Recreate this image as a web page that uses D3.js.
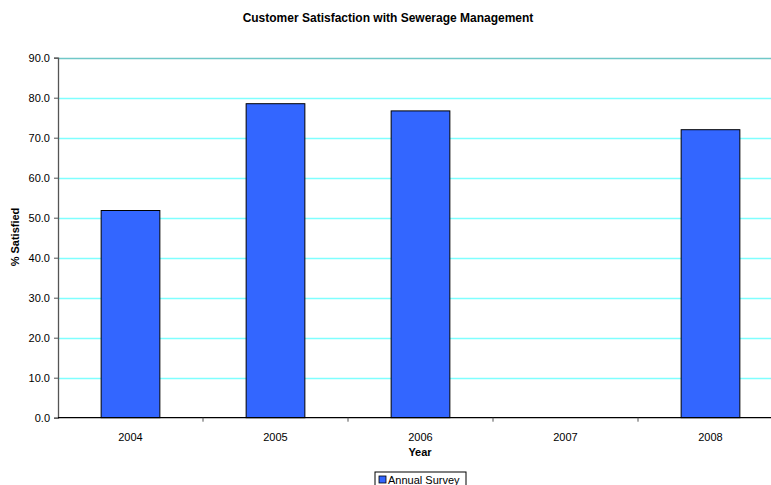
<!DOCTYPE html>
<html>
<head>
<meta charset="utf-8">
<script src="https://cdn.jsdelivr.net/npm/d3@7"></script>
<style>
  body { margin: 0; background: #fff; }
  svg { display: block; font-family: "Liberation Sans", Arial, sans-serif; }
</style>
</head>
<body>
<svg id="chart" width="771" height="485"></svg>
<script>
// Survey years and share of satisfied customers (no survey in 2007)
const years = ["2004", "2005", "2006", "2007", "2008"];
const satisfied = [51.8, 78.5, 76.7, null, 72.0];
const yTicks = [0, 10, 20, 30, 40, 50, 60, 70, 80, 90];
const seriesName = "Annual Survey";
const title = "Customer Satisfaction with Sewerage Management";

const svg = d3.select("#chart");
const margin = { left: 58, top: 57.7, bottom: 417.7 };
const plotRight = 58 + 5 * 145;

const x = d3.scaleBand().domain(years).range([margin.left, plotRight]).paddingInner(0).paddingOuter(0);
const y = d3.scaleLinear().domain([0, 90]).range([margin.bottom, margin.top]);

// gridlines
svg.append("g").selectAll("line")
  .data(yTicks.filter(t => t > 0))
  .join("line")
  .attr("x1", margin.left).attr("x2", plotRight)
  .attr("y1", d => Math.round(y(d)) + 0.5).attr("y2", d => Math.round(y(d)) + 0.5)
  .attr("stroke", d => d === 90 ? "#70c8c8" : "#7fffff")
  .attr("stroke-width", 1.6);

// bars
const barW = x.bandwidth() * 0.405;
svg.append("g").selectAll("rect")
  .data(years.map((yr, i) => ({ yr, v: satisfied[i] })).filter(d => d.v != null))
  .join("rect")
  .attr("x", d => x(d.yr) + (x.bandwidth() - barW) / 2)
  .attr("width", barW)
  .attr("y", d => y(d.v))
  .attr("height", d => y(0) - y(d.v))
  .attr("fill", "#3366ff")
  .attr("stroke", "#000")
  .attr("stroke-width", 1);

// y axis
const yAxis = svg.append("g")
  .attr("transform", `translate(${margin.left},0)`)
  .call(d3.axisLeft(y).tickValues(yTicks).tickFormat(d3.format(".1f")).tickSize(4).tickPadding(4));
yAxis.select(".domain").attr("stroke", "#555").attr("stroke-width", 1.3);
yAxis.selectAll(".tick line").attr("stroke", "#555");
yAxis.selectAll("text").attr("font-size", 11).attr("fill", "#000")
  .attr("font-family", "Liberation Sans, Arial, sans-serif");

// x axis: ticks between categories
const xAxisG = svg.append("g").attr("transform", `translate(0,${margin.bottom})`);
xAxisG.append("line")
  .attr("x1", margin.left).attr("x2", plotRight)
  .attr("stroke", "#000").attr("stroke-width", 1.3);
xAxisG.selectAll("line.tk")
  .data(years.slice(1))
  .join("line").attr("class", "tk")
  .attr("x1", d => x(d)).attr("x2", d => x(d))
  .attr("y1", 0).attr("y2", 4)
  .attr("stroke", "#555");
xAxisG.selectAll("text")
  .data(years)
  .join("text")
  .attr("x", d => x(d) + x.bandwidth() / 2)
  .attr("y", 23)
  .attr("text-anchor", "middle")
  .attr("font-size", 11)
  .text(d => d);

// title and axis titles
svg.append("text")
  .attr("x", 388).attr("y", 22)
  .attr("text-anchor", "middle")
  .attr("font-size", 12).attr("font-weight", "bold")
  .text(title);

svg.append("text")
  .attr("x", 420).attr("y", 456)
  .attr("text-anchor", "middle")
  .attr("font-size", 11).attr("font-weight", "bold")
  .text("Year");

svg.append("text")
  .attr("transform", "translate(19,237) rotate(-90)")
  .attr("text-anchor", "middle")
  .attr("font-size", 11).attr("font-weight", "bold")
  .text("% Satisfied");

// legend
const lg = svg.append("g").attr("transform", "translate(375,472)");
lg.append("rect").attr("x", 0).attr("y", 0).attr("width", 91).attr("height", 16)
  .attr("fill", "#fff").attr("stroke", "#000").attr("stroke-width", 1);
lg.append("rect").attr("x", 4).attr("y", 4).attr("width", 7).attr("height", 7)
  .attr("fill", "#3366ff").attr("stroke", "#000").attr("stroke-width", 0.8);
lg.append("text").attr("x", 13).attr("y", 12).attr("font-size", 11).text(seriesName);
</script>
</body>
</html>
